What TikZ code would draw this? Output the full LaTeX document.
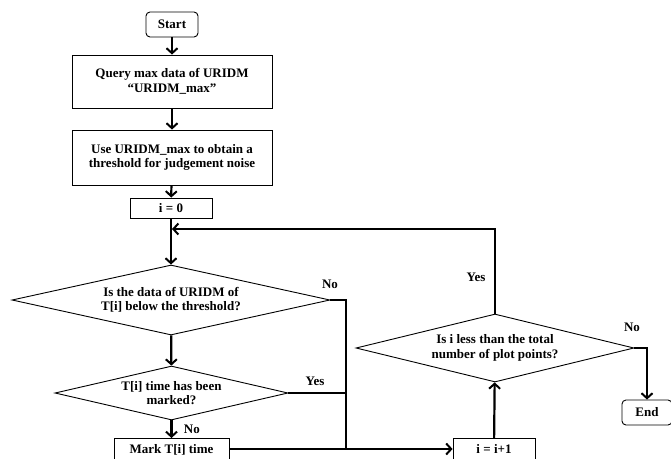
\documentclass[tikz,border=0pt]{standalone}
\usepackage{fontspec}
\setmainfont{Liberation Serif}
\usetikzlibrary{shapes.geometric,arrows.meta}
\begin{document}
\begin{tikzpicture}[x=1pt,y=-1pt,
  font=\fontsize{13}{14.5}\selectfont\bfseries,
  flow/.style={line width=2.2pt,-{Straight Barb[length=5pt,width=11pt,line width=2pt]}},
  wire/.style={line width=2.2pt},
  procbox/.style={draw,line width=0.9pt,align=center,inner sep=0pt},
  termbox/.style={procbox,rounded corners=4pt},
  decbox/.style={draw,diamond,line width=0.9pt,align=center,inner sep=0pt,aspect=4.5}]
  \clip (0,0) rectangle (671,458);
  \node[termbox,minimum width=52,minimum height=25] (start) at (172,24.5) {Start};
  \node[procbox,minimum width=200,minimum height=53] (query) at (172,81.5) {Query max data of URIDM\\``URIDM\_max''};
  \node[procbox,minimum width=200,minimum height=55] (use) at (172,157.5) {Use URIDM\_max to obtain a\\threshold for judgement noise};
  \node[procbox,minimum width=82,minimum height=20] (init) at (171,208) {i = 0};
  \node[decbox,minimum width=318,minimum height=70] (below) at (171,300) {Is the data of URIDM of\\T[i] below the threshold?};
  \node[decbox,minimum width=233,minimum height=54] (marked) at (171.5,393) {T[i] time has been\\marked?};
  \node[procbox,minimum width=115,minimum height=22,anchor=north] (mark) at (171.5,438) {Mark T[i] time};
  \node[procbox,minimum width=82,minimum height=22,anchor=north] (incr) at (494,438) {i = i+1};
  \node[decbox,minimum width=278,minimum height=68] (less) at (495,348) {Is i less than the total\\number of plot points?};
  \node[termbox,minimum width=50,minimum height=25] (end) at (647,412.5) {End};
  \coordinate (loop) at (172,229);
  \coordinate (join) at (346,449);
  \draw[flow] (start) -- (query);
  \draw[flow] (query) -- (use);
  \draw[flow] (use) -- (init);
  \draw[flow] (init) -- (below);
  \draw[flow] (below) -- (marked);
  \draw[flow] (marked) -- node[right=8pt]{No} (mark);
  \draw[wire] (below.east) -| (join);
  \draw[wire] (marked.east) -- (marked.east -| join);
  \draw[flow] (mark.east |- join) -- (incr.west |- join);
  \draw[flow] (incr) -- (less);
  \draw[flow] (less.north) |- (loop);
  \draw[flow] (less.east) -| (end);
  \node (nobelow) at (330,284) {No};
  \node (yesmarked) at (315,381) {Yes};
  \node (yesless) at (476,277) {Yes};
  \node (noless) at (632,327) {No};
\end{tikzpicture}
\end{document}
